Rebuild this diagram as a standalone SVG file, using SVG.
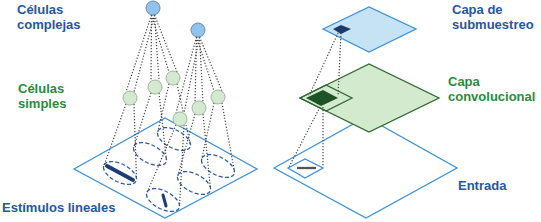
<svg xmlns="http://www.w3.org/2000/svg" width="541" height="222" viewBox="0 0 541 222">
<style>
.lbl{font-family:"Liberation Sans",Arial,sans-serif;font-weight:bold;font-size:13px}
.blue{fill:#1f57a5}
.green{fill:#2b8a3c}
.dot{stroke:#444;stroke-width:1.2;stroke-dasharray:1.2 1.8;fill:none}
.ell{fill:none;stroke:#2a5ca8;stroke-width:1.3;stroke-dasharray:4 2.2}
.cx{fill:#8ec4ee;stroke:#6f8aa5;stroke-width:1}
.sm{fill:#d3e9d0;stroke:#a3b59e;stroke-width:1}
.bar{stroke:#1d3d78;stroke-linecap:round}
.plane{fill:#fff;stroke:#3a92dc;stroke-width:1.3}
</style>
<g id="labels">
<text class="lbl blue" x="17" y="14">Células</text>
<text class="lbl blue" x="17" y="29">complejas</text>
<text class="lbl green" x="18" y="93">Células</text>
<text class="lbl green" x="18" y="108">simples</text>
<text class="lbl blue" x="2" y="212">Estímulos lineales</text>
<text class="lbl blue" x="452" y="14">Capa de</text>
<text class="lbl blue" x="452" y="29">submuestreo</text>
<text class="lbl green" x="448" y="86">Capa</text>
<text class="lbl green" x="448" y="101">convolucional</text>
<text class="lbl blue" x="458" y="190">Entrada</text>
</g>
<g id="stimulus-plane">
<polygon class="plane" points="74,169 165,118 257,169 165,218"/>
</g>
<g id="receptive-fields">
<ellipse class="ell" cx="120" cy="173" rx="18" ry="9" transform="rotate(27 120 173)"/>
<ellipse class="ell" cx="150" cy="154" rx="18" ry="9" transform="rotate(27 150 154)"/>
<ellipse class="ell" cx="174" cy="139" rx="18" ry="9" transform="rotate(27 174 139)"/>
<ellipse class="ell" cx="163" cy="200" rx="18" ry="9" transform="rotate(27 163 200)"/>
<ellipse class="ell" cx="194" cy="183" rx="18" ry="9" transform="rotate(27 194 183)"/>
<ellipse class="ell" cx="218" cy="166" rx="18" ry="9" transform="rotate(27 218 166)"/>
<line class="bar" x1="107" y1="166" x2="133" y2="180" stroke-width="4"/>
<line class="bar" x1="163" y1="195" x2="166" y2="206" stroke-width="3"/>
</g>
<g id="connectors">
<line class="dot" x1="151.5" y1="15" x2="126" y2="92"/>
<line class="dot" x1="154.5" y1="15" x2="134" y2="92"/>
<line class="dot" x1="151.5" y1="15" x2="151" y2="81"/>
<line class="dot" x1="154.5" y1="15" x2="159" y2="81"/>
<line class="dot" x1="151.5" y1="15" x2="169" y2="72"/>
<line class="dot" x1="154.5" y1="15" x2="177" y2="72"/>
<line class="dot" x1="196.5" y1="37" x2="176" y2="113"/>
<line class="dot" x1="199.5" y1="37" x2="184" y2="113"/>
<line class="dot" x1="196.5" y1="37" x2="195" y2="102"/>
<line class="dot" x1="199.5" y1="37" x2="203" y2="102"/>
<line class="dot" x1="196.5" y1="37" x2="214" y2="91"/>
<line class="dot" x1="199.5" y1="37" x2="222" y2="91"/>
<line class="dot" x1="126" y1="104" x2="103.5" y2="167"/>
<line class="dot" x1="134" y1="104" x2="136.5" y2="179"/>
<line class="dot" x1="151" y1="93" x2="133.5" y2="148"/>
<line class="dot" x1="159" y1="93" x2="166.5" y2="160"/>
<line class="dot" x1="169" y1="84" x2="157.5" y2="133"/>
<line class="dot" x1="177" y1="84" x2="190.5" y2="145"/>
<line class="dot" x1="176" y1="125" x2="146.5" y2="194"/>
<line class="dot" x1="184" y1="125" x2="179.5" y2="206"/>
<line class="dot" x1="195" y1="114" x2="177.5" y2="177"/>
<line class="dot" x1="203" y1="114" x2="210.5" y2="189"/>
<line class="dot" x1="214" y1="103" x2="201.5" y2="160"/>
<line class="dot" x1="222" y1="103" x2="234.5" y2="172"/>
</g>
<g id="simple-cells">
<circle class="sm" cx="130" cy="98" r="7"/>
<circle class="sm" cx="155" cy="87" r="7"/>
<circle class="sm" cx="173" cy="78" r="7"/>
<circle class="sm" cx="180" cy="119" r="7"/>
<circle class="sm" cx="199" cy="108" r="7"/>
<circle class="sm" cx="218" cy="97" r="7"/>
</g>
<g id="complex-cells">
<circle class="cx" cx="153" cy="8" r="7"/>
<circle class="cx" cx="198" cy="30" r="7"/>
</g>
<g id="input-layer">
<polygon class="plane" points="274,168 366,117 457,168 366,218"/>
<polygon class="plane" points="288,168 305,159 323,168 305,178"/>
<line x1="297" y1="168" x2="316" y2="168" stroke="#555" stroke-width="2.3"/>
</g>
<g id="conv-layer">
<polygon points="300,98 369,64 439,98 369,132" fill="#d4eacf" stroke="#2d6a2f" stroke-width="1.3"/>
<polygon points="300,98 326,85 352,98 326,111" fill="none" stroke="#2d6a2f" stroke-width="1.3"/>
<polygon points="306,98 323,90 338,98 321,106" fill="#1e5227"/>
</g>
<g id="pool-layer">
<polygon points="323,29 369,7 416,29 369,52" fill="#c6e2f5" stroke="#3a92dc" stroke-width="1.3"/>
<polygon points="333,29 341,25 351,29 341,34" fill="#1b3a6b"/>
</g>
<g id="layer-connectors">
<line class="dot" x1="338" y1="33" x2="309" y2="96"/>
<line class="dot" x1="341" y1="33" x2="338" y2="96"/>
<line class="dot" x1="320" y1="107" x2="289" y2="167"/>
<line class="dot" x1="323" y1="107" x2="323" y2="167"/>
</g>
</svg>
